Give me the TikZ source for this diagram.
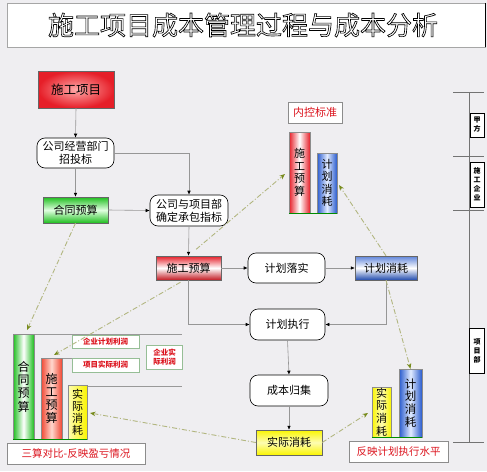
\documentclass[tikz,border=0pt]{standalone}
\usepackage{fontspec}
\setmainfont{Noto Sans CJK SC}
\newfontfamily\titlefont{Noto Sans CJK SC}[FakeBold=2.5]
\usetikzlibrary{arrows.meta,calc}
\definecolor{bgc}{RGB}{239,238,241}
\definecolor{connc}{RGB}{150,150,150}
\definecolor{olv}{RGB}{178,182,128}
\definecolor{olvtip}{RGB}{120,140,30}
\definecolor{txtred}{RGB}{220,20,30}
\definecolor{grn}{RGB}{30,190,30}
\definecolor{rd}{RGB}{230,30,40}
\definecolor{bl}{RGB}{40,90,205}
\definecolor{ylw}{RGB}{250,245,0}
\definecolor{lblb}{RGB}{150,190,150}
\tikzset{
  wh/.style 2 args={minimum width=#1pt,minimum height=#2pt},
  base/.style={inner sep=0pt,align=center,font=\fontsize{11}{13}\selectfont},
  flow/.style={base,draw=black,line width=0.6pt,rounded corners=8pt,fill=white},
  gbar/.style={base,draw=black!60,line width=0.4pt},
  vbar/.style={inner sep=0pt,align=center,draw=black!45,line width=0.4pt,font=\fontsize{11}{12.5}\selectfont},
  tag/.style={base,draw=black!45,line width=0.5pt,fill=white,text=txtred},
  ptag/.style={inner sep=0pt,align=center,draw=lblb,line width=0.6pt,fill=white,text=txtred,font=\bfseries\fontsize{7.5}{9}\selectfont},
  axtag/.style={inner sep=0pt,align=center,draw=black,line width=0.5pt,fill=white,font=\bfseries\fontsize{7}{9}\selectfont},
  conn/.style={draw=connc,line width=0.6pt,-{Latex[length=4pt,width=3.6pt,color=black]}},
  dconn/.style={draw=olv,line width=0.9pt,dash pattern=on 5pt off 2pt on 1pt off 2pt,-{Stealth[length=5.5pt,width=4.5pt,color=olvtip]}},
  baseline/.style={draw=green!55!black,line width=1.3pt},
  guide/.style={draw=black!40,line width=0.5pt},
  titletext/.style={inner sep=0pt,text=white,font=\titlefont\fontsize{26}{28}\selectfont}
}
\begin{document}
\begin{tikzpicture}[x=1pt,y=-1pt]
\useasboundingbox (0,0) rectangle (487,471);
\fill[bgc] (0,0) rectangle (487,471);
% title
\filldraw[fill=white,draw=black!35,line width=0.6pt] (7,3) rectangle (485,47);
\draw[black,line width=0.8pt] (485,3) -- (485,47);
\node[titletext] (title) at (243,25) {\special{pdf:literal direct 1 1 1 rg 0 0 0 RG}施工项目成本管理过程与成本分析};

% flow nodes
\node[gbar,wh={76}{37},shading=radial,inner color={rgb,255:red,255;green,170;blue,170},outer color=rd,font=\fontsize{12.5}{14}\selectfont] (prj) at (76,89.5) {施工项目};
\node[flow,wh={77}{30}] (bid) at (75.5,153) {公司经营部门\\招投标};
\node[gbar,wh={65}{26},top color=grn,bottom color=grn,middle color={rgb,255:red,225;green,255;blue,225}] (htys) at (75.5,210) {合同预算};
\node[flow,wh={78}{31}] (zb) at (189,210.5) {公司与项目部\\确定承包指标};
\node[gbar,wh={65}{24},top color=rd,bottom color=rd!85!black,middle color=white] (sgys) at (188.5,268) {施工预算};
\node[flow,wh={77}{30}] (jhls) at (286.5,268) {计划落实};
\node[gbar,wh={62}{24},top color=bl!75!white,bottom color=bl!85!black,middle color=white] (jhxh) at (386,268) {计划消耗};
\node[flow,wh={75}{31}] (jhzx) at (287.5,324.5) {计划执行};
\node[flow,wh={78}{31}] (cbgj) at (289,390.5) {成本归集};
\node[gbar,wh={66}{25},top color=ylw,bottom color=ylw,middle color=ylw!30!white] (sjxh) at (289,442.5) {实际消耗};

% flow connectors
\draw[conn] (prj.south) -- (bid.north);
\draw[conn] (bid.south) -- (htys.north);
\draw[conn] (bid.east) -| (zb.north);
\draw[conn] (htys.east) -- (zb.west);
\draw[conn] (zb.south) -- (sgys.north);
\draw[conn] (sgys.east) -- (jhls.west);
\draw[conn] (jhls.east) -- (jhxh.west);
\draw[conn] (sgys.south) |- (jhzx.west);
\draw[conn] (jhxh.south) |- (jhzx.east);
\draw[conn] (jhzx.south) -- (cbgj.north);
\draw[conn] (cbgj.south) -- (sjxh.north);

% top-right chart
\node[tag,wh={54}{21}] (nk) at (315,112.5) {内控标准};
\node[vbar,wh={21}{81},left color=rd,right color=rd,middle color=white] (barA1) at (299.5,172.5) {施\\工\\预\\算};
\node[vbar,wh={20}{60},left color=bl,right color=bl,middle color={rgb,255:red,225;green,235;blue,255}] (barA2) at (327,183) {计\\划\\消\\耗};
\draw[baseline] (barA1.south west) -- (barA2.south east);

% bottom-left chart
\draw[guide] (34,334) -- (182,334);
\draw[guide] (62,358) -- (140,358);
\draw[guide] (87,386) -- (182,386);
\node[vbar,wh={21}{105},left color=grn,right color=grn,middle color=white,font=\fontsize{12}{13.3}\selectfont] (barB1) at (23.5,386.5) {合\\同\\预\\算};
\node[vbar,wh={21}{81},left color={rgb,255:red,240;green,70;blue,50},right color={rgb,255:red,240;green,70;blue,50},middle color={rgb,255:red,255;green,215;blue,205},font=\fontsize{12}{12.8}\selectfont] (barB2) at (51.5,398.5) {施\\工\\预\\算};
\node[vbar,wh={19}{54},left color=ylw!30!white,right color=ylw,font=\fontsize{11}{12}\selectfont] (barB3) at (77.5,412) {实\\际\\消\\耗};
\draw[baseline] (barB1.south west) -- (barB3.south east);
\node[ptag,wh={67}{13}] (qyjh) at (105.5,341.5) {企业计划利润};
\node[ptag,wh={67}{14}] (xmsj) at (105.5,365) {项目实际利润};
\node[ptag,wh={36}{24}] (qysj) at (164.5,357.5) {企业实\\际利润};
\node[tag,wh={138}{21},font=\fontsize{10.5}{12}\selectfont] (scb) at (76,453.5) {三算对比-反映盈亏情况};

% bottom-right chart
\node[vbar,wh={19}{50},left color=ylw,right color=ylw,middle color=ylw!30!white,font=\fontsize{11}{12.6}\selectfont] (barC1) at (381.5,412) {实\\际\\消\\耗};
\node[vbar,wh={23}{68},left color=bl,right color=bl,middle color={rgb,255:red,225;green,235;blue,255},font=\fontsize{11.5}{12.8}\selectfont] (barC2) at (410.5,403) {计\\划\\消\\耗};
\draw[baseline] (barC1.south west) -- (barC2.south east);
\node[tag,wh={99}{21},font=\fontsize{10.5}{12}\selectfont] (fyjh) at (398.5,451.5) {反映计划执行水平};

% dashed relations
\coordinate (e1) at (27,330);
\coordinate (e2) at (54,355);
\coordinate (e3) at (285,174);
\coordinate (e4) at (339,185);
\coordinate (e6) at (368,413);
\coordinate (e7) at (90,413);
\draw[dconn] (htys.south) -- (e1);
\draw[dconn] ($(sgys.south)+(-8,2)$) -- (e2);
\draw[dconn,shorten <=10pt] (sgys.north) -- (e3);
\draw[dconn] (jhxh.north) -- (e4);
\draw[dconn] (jhxh.south) -- (barC2.north);
\draw[dconn] (sjxh.east) -- (e6);
\draw[dconn] (sjxh.west) -- (e7);

% right axis
\draw[black!55,line width=0.6pt] (469,92) -- (469,442);
\foreach \yy in {92,156,210,442} \draw[black!55,line width=0.6pt] (453,\yy) -- (484,\yy);
\node[axtag,wh={14}{24}] (jf) at (477,125) {甲\\方};
\node[axtag,wh={14}{45}] (sgqy) at (477,184.5) {施\\工\\企\\业};
\node[axtag,wh={15}{45}] (xmb) at (477,350.5) {项\\目\\部};
\end{tikzpicture}
\end{document}
